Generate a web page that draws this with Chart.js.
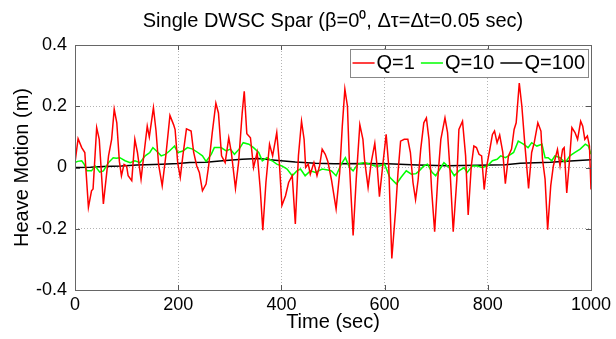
<!DOCTYPE html>
<html><head><meta charset="utf-8">
<script src="https://cdn.jsdelivr.net/npm/chart.js@4"></script>
<style>html,body{margin:0;padding:0;background:#fff}</style>
</head><body>
<canvas id="c" width="616" height="339"></canvas>
<script>
// ---- data ----
const timeQ1 = [0,6,13,19,26,32,35,42,47,55,65,71,76,81,86,90,95,100,103,110,116,121,128,134,140,144,152,157,162,169,176,184,191,194,199,204,209,216,225,230,236,241,247,254,259,266,273,278,284,291,298,303,311,317,324,328,333,340,346,353,359,364,370,377,383,391,396,401,408,414,421,427,433,439,444,447,452,456,463,469,474,479,485,490,497,506,513,518,523,528,532,539,545,552,558,561,568,574,581,586,590,597,603,608,614,621,626,631,638,645,650,655,660,665,670,676,681,686,691,697,703,709,717,722,727,733,740,744,751,757,762,768,773,778,783,788,793,798,804,809,813,818,823,829,834,840,846,851,855,861,866,871,879,885,890,897,903,906,911,916,922,927,935,940,945,948,953,958,963,969,974,980,984,988,993,997,1000];
const heaveQ1 = [0.016,0.094,0.065,0.049,-0.13,-0.076,-0.07,0.13,0.092,-0.119,0.038,0.092,0.19,0.146,0.02,-0.027,0.01,0.005,-0.027,-0.043,0.092,0.049,-0.038,0.049,0.135,0.10,0.195,0.12,0.01,-0.06,0.038,0.17,0.14,0.124,0.016,-0.032,0.038,0.126,0.119,0.049,0.005,-0.016,-0.076,-0.054,0.005,0.114,0.21,0.178,0.038,0.016,0.097,0.049,-0.068,0.016,0.178,0.249,0.11,0.097,0.0,0.049,-0.07,-0.205,-0.049,0.076,0.038,0.114,0.016,-0.124,-0.092,-0.049,-0.027,-0.184,0.038,0.151,0.092,0.0,0.011,-0.022,0.016,-0.027,0.005,0.06,0.043,0.02,-0.04,-0.135,-0.016,0.135,0.256,0.2,0.005,-0.222,-0.038,0.14,0.092,0.027,-0.065,0.016,0.079,-0.005,-0.095,0.016,0.108,0.005,-0.297,-0.146,-0.016,0.086,0.092,0.092,0.049,-0.049,-0.105,-0.04,0.06,0.146,0.162,0.092,-0.07,-0.21,-0.038,0.092,0.162,0.114,-0.016,-0.21,-0.038,0.124,0.151,0.038,-0.155,0.005,0.07,0.065,0.043,0.038,-0.072,0.005,0.06,0.108,0.119,0.081,0.106,0.05,-0.053,0.038,0.06,0.124,0.146,0.276,0.2,0.092,-0.068,0.049,0.081,0.146,0.119,0.027,-0.038,-0.203,-0.059,0.005,0.059,0.005,0.059,0.065,-0.083,0.016,0.13,0.114,0.092,0.151,0.135,0.092,0.103,0.07,-0.072];

const timeQ10 = [0,5,13,18,23,32,39,48,55,65,74,80,87,97,107,116,126,136,145,151,158,167,175,183,193,199,209,218,228,238,247,254,264,270,283,293,301,309,318,326,337,346,356,363,372,382,391,401,411,421,430,437,446,456,466,479,490,497,506,516,524,532,539,548,561,571,581,590,600,610,623,632,642,652,661,667,676,683,692,699,709,715,725,735,744,754,760,770,780,789,799,809,818,825,834,840,850,859,869,878,885,895,905,911,917,924,930,940,950,959,969,979,989,995,1000];
const heaveQ10 = [0.016,0.02,0.022,0.01,-0.011,-0.011,0.005,-0.015,-0.011,0.016,0.032,0.03,0.032,0.022,0.016,0.022,0.016,0.038,0.049,0.065,0.054,0.038,0.043,0.054,0.07,0.049,0.054,0.065,0.06,0.049,0.038,0.02,0.043,0.065,0.065,0.054,0.06,0.043,0.06,0.081,0.076,0.065,0.049,0.022,0.032,0.022,0.011,0.005,-0.005,-0.027,-0.011,-0.005,-0.027,-0.011,-0.016,-0.005,-0.008,-0.011,-0.027,0.011,0.032,0.0,-0.011,0.011,0.016,0.011,0.005,0.005,0.011,-0.032,-0.054,-0.032,-0.011,-0.022,-0.02,-0.011,0.005,0.011,-0.016,-0.027,0.0,0.016,0.0,-0.027,-0.011,0.0,-0.016,0.005,0.005,0.0,0.005,0.022,0.027,0.038,0.032,0.038,0.049,0.086,0.076,0.065,0.081,0.07,0.076,0.032,0.032,0.022,0.038,0.032,0.016,0.038,0.049,0.06,0.076,0.07,0.043];

const timeQ100 = [0,30,55,90,120,168,200,222,254,286,324,356,388,427,466,502,560,606,664,720,780,834,863,921,960,1000];
const heaveQ100 = [0,0.001,0.003,0.005,0.008,0.011,0.013,0.016,0.017,0.022,0.027,0.029,0.024,0.018,0.014,0.012,0.013,0.012,0.008,0.006,0.007,0.009,0.014,0.017,0.021,0.025];

const seriesNames = ['Q=1','Q=10','Q=100'];
const seriesColors = ['#ff0000','#00ff00','#000000'];
const xTicks = [0,200,400,600,800,1000];
const yTicks = [-0.4,-0.2,0,0.2,0.4];

const FONT = "'Liberation Sans', Arial, Helvetica, sans-serif";
const toXY = (ts, vs) => ts.map((t, i) => ({x: t, y: vs[i]}));

const frame = {
  id: 'frame',
  beforeLayout(chart) {
    // lay the in-plot legend out as a single horizontal row
    if (chart.legend) chart.legend.isHorizontal = () => true;
  },
  afterLayout(chart) {
    const lg = chart.legend, a = chart.chartArea;
    if (lg) {
      const h = lg.height;
      lg.left = a.left; lg.right = a.right + 8; lg.width = lg.right - lg.left;
      lg.top = a.top - 6; lg.bottom = lg.top + h;
    }
  },
  afterDatasetsDraw(chart) {
    const ctx = chart.ctx, a = chart.chartArea;
    const xs = chart.scales.x, ys = chart.scales.y;
    ctx.save();
    // inward ticks
    ctx.strokeStyle = '#555'; ctx.lineWidth = 1;
    ctx.beginPath();
    xTicks.forEach(v => {
      const px = Math.round(xs.getPixelForValue(v)) + 0.5;
      ctx.moveTo(px, a.bottom); ctx.lineTo(px, a.bottom - 5);
      ctx.moveTo(px, a.top); ctx.lineTo(px, a.top + 5);
    });
    yTicks.forEach(v => {
      const py = Math.round(ys.getPixelForValue(v)) + 0.5;
      ctx.moveTo(a.left, py); ctx.lineTo(a.left + 5, py);
      ctx.moveTo(a.right, py); ctx.lineTo(a.right - 5, py);
    });
    ctx.stroke();
    // axes box
    ctx.strokeStyle = '#666';
    ctx.strokeRect(Math.round(a.left) + 0.5, Math.round(a.top) + 0.5,
                   Math.round(a.right - a.left), Math.round(a.bottom - a.top));
    // legend box on top of the lines
    const lg = chart.legend;
    if (lg && lg.legendHitBoxes && lg.legendHitBoxes.length) {
      const hb = lg.legendHitBoxes, first = hb[0], last = hb[hb.length - 1];
      const l = Math.round(first.left - 11) + 0.5;
      const r = Math.round(last.left + last.width + 3) + 0.5;
      const t = Math.round(first.top - 4) + 0.5;
      const b = Math.round(first.top + first.height + 4) + 0.5;
      ctx.fillStyle = '#fff';
      ctx.fillRect(l, t, r - l, b - t);
      ctx.strokeStyle = '#888';
      ctx.lineWidth = 1;
      ctx.strokeRect(l, t, r - l, b - t);
      ctx.restore();
      lg.draw();
      return;
    }
    ctx.restore();
  }
};

new Chart(document.getElementById('c'), {
  type: 'line',
  data: {
    datasets: [
      {label: seriesNames[0], data: toXY(timeQ1, heaveQ1), borderColor: seriesColors[0], backgroundColor: seriesColors[0]},
      {label: seriesNames[1], data: toXY(timeQ10, heaveQ10), borderColor: seriesColors[1], backgroundColor: seriesColors[1]},
      {label: seriesNames[2], data: toXY(timeQ100, heaveQ100), borderColor: seriesColors[2], backgroundColor: seriesColors[2]}
    ]
  },
  options: {
    responsive: false,
    animation: false,
    devicePixelRatio: 1,
    layout: {padding: {left: 0, right: 25, top: 0, bottom: 0}},
    elements: {
      point: {radius: 0, hoverRadius: 0},
      line: {borderWidth: 1.5, tension: 0}
    },
    plugins: {
      title: {
        display: true,
        text: 'Single DWSC Spar (β=0⁰, Δτ=Δt=0.05 sec)',
        fullSize: false,
        color: '#000',
        font: {family: FONT, size: 20, weight: 'normal'},
        padding: {top: 9, bottom: 12}
      },
      legend: {
        position: 'chartArea',
        align: 'end',
        labels: {
          color: '#000',
          font: {family: FONT, size: 20},
          usePointStyle: true,
          pointStyle: 'line',
          boxWidth: 6,
          boxHeight: 15.6,
          padding: 14,
          generateLabels: chart => chart.data.datasets.map((ds, i) => ({
            text: ds.label,
            fillStyle: ds.borderColor,
            strokeStyle: ds.borderColor,
            lineWidth: 1.5,
            pointStyle: 'line',
            fontColor: '#000',
            hidden: false,
            datasetIndex: i
          }))
        }
      },
      tooltip: {enabled: false}
    },
    scales: {
      x: {
        type: 'linear',
        min: 0, max: 1000,
        afterBuildTicks: s => { s.ticks = xTicks.map(v => ({value: v})); },
        afterFit: s => { s.height = 49; },
        grid: {color: '#b4b4b4', lineWidth: 1, drawTicks: false},
        border: {display: false, dash: [1, 2]},
        ticks: {color: '#000', font: {family: FONT, size: 18}, padding: 4, maxRotation: 0,
                callback: v => String(v)},
        title: {display: true, text: 'Time (sec)', color: '#000',
                font: {family: FONT, size: 20}, padding: {top: 0, bottom: 5}}
      },
      y: {
        type: 'linear',
        min: -0.4, max: 0.4,
        afterBuildTicks: s => { s.ticks = yTicks.map(v => ({value: v})); },
        afterFit: s => { s.width = 75; },
        grid: {color: '#b4b4b4', lineWidth: 1, drawTicks: false},
        border: {display: false, dash: [1, 2]},
        ticks: {color: '#000', font: {family: FONT, size: 18}, padding: 8,
                callback: v => String(Math.round(v * 10) / 10)},
        title: {display: true, text: 'Heave Motion (m)', color: '#000',
                font: {family: FONT, size: 20}, padding: {top: 10, bottom: 0}}
      }
    }
  },
  plugins: [frame]
});
</script>
</body></html>
